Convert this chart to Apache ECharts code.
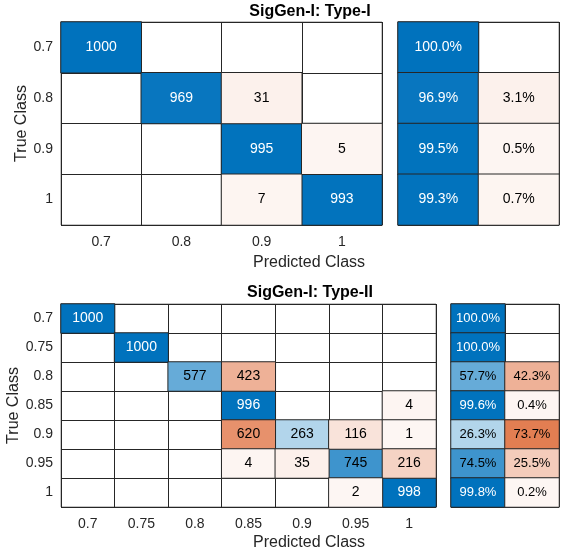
<!DOCTYPE html>
<html><head><meta charset="utf-8">
<script src="https://cdn.jsdelivr.net/npm/echarts@6/dist/echarts.min.js"></script>
<style>html,body{margin:0;padding:0;background:#fff}#c{width:564px;height:558px}</style>
</head><body><div id="c"></div><script>
// ---- data ----
const titleI = 'SigGen-I: Type-I';
const titleII = 'SigGen-I: Type-II';
const classesI = ['0.7', '0.8', '0.9', '1'];
const countsI = [
  [1000, 0, 0, 0],
  [0, 969, 31, 0],
  [0, 0, 995, 5],
  [0, 0, 7, 993]
];
const correctPctI = [100.0, 96.9, 99.5, 99.3];
const wrongPctI = [0, 3.1, 0.5, 0.7];

const classesII = ['0.7', '0.75', '0.8', '0.85', '0.9', '0.95', '1'];
const countsII = [
  [1000, 0, 0, 0, 0, 0, 0],
  [0, 1000, 0, 0, 0, 0, 0],
  [0, 0, 577, 423, 0, 0, 0],
  [0, 0, 0, 996, 0, 0, 4],
  [0, 0, 0, 620, 263, 116, 1],
  [0, 0, 0, 4, 35, 745, 216],
  [0, 0, 0, 0, 0, 2, 998]
];
const correctPctII = [100.0, 100.0, 57.7, 99.6, 26.3, 74.5, 99.8];
const wrongPctII = [0, 0, 42.3, 0.4, 73.7, 25.5, 0.2];
const rowTotal = 1000;

// ---- styling ----
const FONT = '"Liberation Sans", Arial, Helvetica, sans-serif';
const TXT = '#262626';
const LINE = '#262626';
const FRAME = '#8c8c8c';

function lab(frac) { return frac > 0.8 ? '#ffffff' : '#000000'; }

function countCells(counts, wantDiag) {
  const out = [];
  counts.forEach((row, r) => row.forEach((v, c) => {
    if (v > 0 && ((r === c) === wantDiag)) {
      out.push({ value: [c, r, v], label: { color: lab(v / rowTotal) } });
    }
  }));
  return out;
}
function pctCells(pcts, col) {
  const out = [];
  pcts.forEach((v, r) => {
    if (v > 0) out.push({ value: [col, r, v], label: { color: lab(v / 100) } });
  });
  return out;
}

const grids = [
  { left: 61, top: 22, width: 321, height: 203 },
  { left: 398, top: 22, width: 161, height: 203 },
  { left: 61, top: 304, width: 375, height: 203 },
  { left: 451, top: 304, width: 108, height: 203 }
].map(g => Object.assign(g, { show: true, borderColor: FRAME, borderWidth: 1, backgroundColor: '#fff', containLabel: false, outerBoundsMode: 'none' }));

const splitLine = { show: true, interval: 0, lineStyle: { color: LINE, width: 1 } };

function xAx(gi, data, showLabels) {
  return {
    type: 'category', gridIndex: gi, data: data,
    axisTick: { show: false }, axisLine: { show: false }, splitLine: splitLine,
    axisLabel: { show: showLabels, interval: 0, margin: 10, fontSize: 14, color: TXT, fontFamily: FONT }
  };
}
function yAx(gi, data, showLabels, gap) {
  return {
    type: 'category', gridIndex: gi, data: data, inverse: true,
    axisTick: { show: false }, axisLine: { show: false }, splitLine: splitLine,
    axisLabel: { show: showLabels, interval: 0, margin: 8, fontSize: 14, color: TXT, fontFamily: FONT },
    name: showLabels ? 'True Class' : '', nameLocation: 'middle', nameRotate: 90, nameGap: gap,
    nameMoveOverlap: false,
    nameTextStyle: { fontSize: 16, color: TXT, fontFamily: FONT }
  };
}

function hm(xi, data, fs, fmt) {
  return {
    type: 'heatmap', xAxisIndex: xi, yAxisIndex: xi, data: data,
    itemStyle: { borderColor: LINE, borderWidth: 1 },
    label: { show: true, fontSize: fs, fontFamily: FONT, formatter: fmt },
    emphasis: { disabled: true }
  };
}
const fmtCount = p => String(p.value[2]);
const fmtPct = p => p.value[2].toFixed(1) + '%';

const series = [
  hm(0, countCells(countsI, true), 14, fmtCount),   // 0
  hm(0, countCells(countsI, false), 14, fmtCount),  // 1
  hm(1, pctCells(correctPctI, 0), 14, fmtPct),      // 2
  hm(1, pctCells(wrongPctI, 1), 14, fmtPct),        // 3
  hm(2, countCells(countsII, true), 14, fmtCount),  // 4
  hm(2, countCells(countsII, false), 14, fmtCount), // 5
  hm(3, pctCells(correctPctII, 0), 13, fmtPct),     // 6
  hm(3, pctCells(wrongPctII, 1), 13, fmtPct)        // 7
];

const BLUE = ['#F2F8FC', '#0072BD'];
const ORANGE = ['#FDF6F3', '#D95319'];

const option = {
  animation: false,
  backgroundColor: '#fff',
  textStyle: { fontFamily: FONT },
  title: [
    { text: titleI, left: 310, top: 4, textAlign: 'center', padding: 0, textStyle: { fontSize: 16, fontWeight: 'bold', color: '#000', fontFamily: FONT } },
    { text: 'Predicted Class', left: 309, top: 255, textAlign: 'center', padding: 0, textStyle: { fontSize: 16, fontWeight: 'normal', color: TXT, fontFamily: FONT } },
    { text: titleII, left: 310, top: 285, textAlign: 'center', padding: 0, textStyle: { fontSize: 16, fontWeight: 'bold', color: '#000', fontFamily: FONT } },
    { text: 'Predicted Class', left: 309, top: 535, textAlign: 'center', padding: 0, textStyle: { fontSize: 16, fontWeight: 'normal', color: TXT, fontFamily: FONT } }
  ],
  grid: grids,
  xAxis: [xAx(0, classesI, true), xAx(1, ['a', 'b'], false), xAx(2, classesII, true), xAx(3, ['a', 'b'], false)],
  yAxis: [yAx(0, classesI, true, 31), yAx(1, classesI, false, 0), yAx(2, classesII, true, 39), yAx(3, classesII, false, 0)],
  visualMap: [
    { show: false, type: 'continuous', min: 0, max: rowTotal, dimension: 2, seriesIndex: [0, 4], inRange: { color: BLUE } },
    { show: false, type: 'continuous', min: 0, max: rowTotal, dimension: 2, seriesIndex: [1, 5], inRange: { color: ORANGE } },
    { show: false, type: 'continuous', min: 0, max: 100, dimension: 2, seriesIndex: [2, 6], inRange: { color: BLUE } },
    { show: false, type: 'continuous', min: 0, max: 100, dimension: 2, seriesIndex: [3, 7], inRange: { color: ORANGE } }
  ],
  series: series
};

const chart = echarts.init(document.getElementById('c'), null, { renderer: 'canvas' });
chart.setOption(option);
</script></body></html>
